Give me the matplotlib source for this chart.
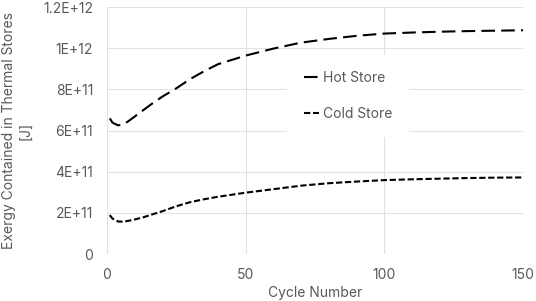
import matplotlib
matplotlib.use("Agg")
import matplotlib.pyplot as plt

plt.rcParams['font.family'] = ['Inter', 'DejaVu Sans']

cycles = [1, 2, 4, 6, 8, 10, 13, 16, 20, 25, 30, 35, 40, 50, 60, 70, 80, 90, 100, 110, 120, 130, 140, 150]
hot_store = [6.59e11, 6.38e11, 6.25e11, 6.30e11, 6.48e11, 6.68e11, 6.98e11, 7.28e11, 7.65e11, 8.05e11,
             8.50e11, 8.88e11, 9.22e11, 9.64e11, 9.98e11, 1.027e12, 1.045e12, 1.060e12, 1.071e12,
             1.076e12, 1.080e12, 1.083e12, 1.085e12, 1.087e12]
cold_store = [1.89e11, 1.72e11, 1.58e11, 1.57e11, 1.62e11, 1.68e11, 1.78e11, 1.91e11, 2.08e11, 2.32e11,
              2.52e11, 2.66e11, 2.78e11, 2.98e11, 3.15e11, 3.32e11, 3.44e11, 3.52e11, 3.59e11,
              3.63e11, 3.66e11, 3.69e11, 3.71e11, 3.72e11]
y_ticks = [0, 2e11, 4e11, 6e11, 8e11, 1e12, 1.2e12]
y_tick_labels = ["0", "2E+11", "4E+11", "6E+11", "8E+11", "1E+12", "1.2E+12"]
x_ticks = [0, 50, 100, 150]
x_tick_labels = ["0", "50", "100", "150"]

txt = '#595959'
fs = 10
fig = plt.figure(figsize=(5.36, 3.01), dpi=100)
ax = fig.add_axes([0.1996, 0.1561, 0.7761, 0.8206])

ax.plot(cycles, hot_store, color='black', lw=1.5, dashes=(6.5, 3), label='Hot Store')
ax.plot(cycles, cold_store, color='black', lw=1.5, dashes=(3, 1.3), label='Cold Store')

ax.set_xlim(0, 150)
ax.set_ylim(0, 1.2e12)
ax.set_xticks(x_ticks)
ax.set_xticklabels(x_tick_labels)
ax.set_yticks(y_ticks)
ax.set_yticklabels(y_tick_labels)
ax.grid(True, color='#e2e2e2', lw=0.8)
ax.set_axisbelow(True)
for s in ax.spines.values():
    s.set_visible(False)
ax.tick_params(length=0, labelsize=fs, colors=txt)
ax.tick_params(axis='y', pad=10)
ax.tick_params(axis='x', pad=10)

ax.set_xlabel('Cycle Number', fontsize=fs, color=txt, labelpad=3)
ax.set_ylabel('Exergy Contained in Thermal Stores\n[J]', fontsize=fs, color=txt, labelpad=8,
              linespacing=1.2)

leg = ax.legend(loc='center', bbox_to_anchor=(0.58, 0.64), frameon=True, fontsize=fs,
                handlelength=1.1, handletextpad=0.3, labelspacing=1.55, borderpad=1.2)
leg.get_frame().set_facecolor('white')
leg.get_frame().set_edgecolor('none')
leg.get_frame().set_alpha(1)
for t in leg.get_texts():
    t.set_color(txt)

fig.savefig('out.png', dpi=100)
